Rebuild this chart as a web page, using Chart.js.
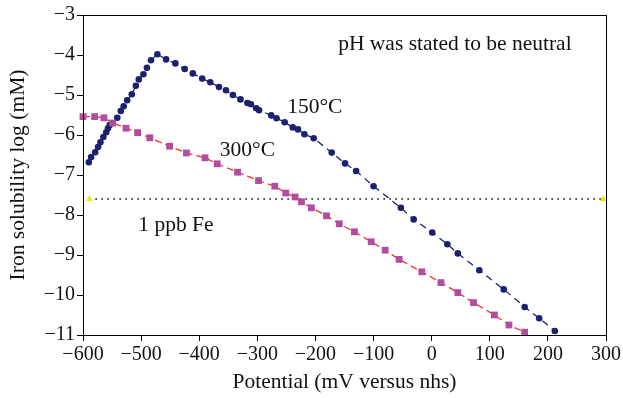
<!DOCTYPE html>
<html>
<head>
<meta charset="utf-8">
<script src="https://cdn.jsdelivr.net/npm/chart.js@4.4.1/dist/chart.umd.min.js"></script>
<style>
  html, body { margin: 0; padding: 0; background: #fff; }
  #wrap { width: 623px; height: 398px; }
</style>
</head>
<body>
<div id="wrap"><canvas id="ironChart" width="623" height="398"></canvas></div>
<script>
// --- Valori ---
const potential150 = [-590, -586, -579, -574, -570, -565, -560, -557, -554, -541, -535, -530, -524, -516, -509, -504, -496, -490, -483, -472, -457, -441, -425, -411, -395, -381, -366, -354, -342, -329, -317, -311, -302, -297, -276, -267, -253, -239, -230, -219, -203, -172, -149, -130, -100, -53, -31, 1, 27, 45, 82, 124, 160, 185, 212];
const logFe150 = [-6.68, -6.55, -6.43, -6.30, -6.18, -6.05, -5.93, -5.83, -5.75, -5.57, -5.40, -5.28, -5.13, -4.98, -4.77, -4.61, -4.48, -4.32, -4.13, -3.98, -4.11, -4.21, -4.35, -4.46, -4.59, -4.68, -4.80, -4.88, -5.00, -5.11, -5.20, -5.23, -5.33, -5.38, -5.51, -5.58, -5.68, -5.81, -5.86, -5.98, -6.08, -6.44, -6.71, -6.90, -7.28, -7.82, -8.11, -8.44, -8.73, -8.96, -9.38, -9.86, -10.30, -10.58, -10.90];

const potential300 = [-600, -580, -564, -549, -526, -506, -485, -451, -422, -390, -369, -334, -298, -270, -251, -235, -224, -207, -181, -159, -133, -104, -80, -56, -17, 16, 45, 72, 108, 133, 160];
const logFe300 = [-5.54, -5.54, -5.57, -5.70, -5.83, -5.94, -6.07, -6.28, -6.45, -6.57, -6.72, -6.93, -7.14, -7.28, -7.45, -7.55, -7.67, -7.82, -8.02, -8.22, -8.42, -8.67, -8.88, -9.11, -9.42, -9.69, -9.94, -10.19, -10.50, -10.75, -10.93];

const ppbPotential = [-589, 295];
const ppbLog = [-7.6, -7.6];

const xTicks = [-600, -500, -400, -300, -200, -100, 0, 100, 200, 300];
const yTicks = [-3, -4, -5, -6, -7, -8, -9, -10, -11];

// Etichetele din interiorul graficului (pozitii in unitati de date)
const notes = [
    { text: 'pH was stated to be neutral', x: 40, y: -3.73 },
    { text: '150\u00B0C', x: -201, y: -5.3 },
    { text: '300\u00B0C', x: -317, y: -6.38 },
    { text: '1 ppb Fe', x: -440, y: -8.25 }
];

const FONT = 'Liberation Serif, Times New Roman, serif';
const toPoints = (xs, ys) => xs.map((x, i) => ({ x: x, y: ys[i] }));
const minus = v => String(v).replace('-', '\u2212');

// Rama completa si textele de pe grafic
const framePlugin = {
    id: 'frame',
    afterDraw(chart) {
        const { ctx, chartArea: a, scales } = chart;
        ctx.save();
        ctx.strokeStyle = '#000';
        ctx.lineWidth = 1;
        ctx.strokeRect(a.left + 0.5, a.top + 0.5, a.right - a.left, a.bottom - a.top);
        ctx.fillStyle = '#111';
        ctx.font = '21.5px ' + FONT;
        ctx.textAlign = 'center';
        ctx.textBaseline = 'middle';
        notes.forEach(n => {
            ctx.fillText(n.text, scales.x.getPixelForValue(n.x), scales.y.getPixelForValue(n.y));
        });
        ctx.restore();
    }
};

const chart = new Chart(document.getElementById('ironChart'), {
    type: 'scatter',
    data: {
        datasets: [
            {
                label: '300 C',
                data: toPoints(potential300, logFe300),
                showLine: true,
                borderColor: '#ff2a2a',
                borderWidth: 1.3,
                borderDash: [7, 4],
                pointStyle: 'rect',
                pointRadius: 4.8,
                pointBackgroundColor: '#b24c9f',
                pointBorderColor: '#b24c9f',
                pointBorderWidth: 0,
                clip: false
            },
            {
                label: '150 C',
                data: toPoints(potential150, logFe150),
                showLine: true,
                borderColor: '#1c2070',
                borderWidth: 1.3,
                borderDash: [7, 5],
                pointRadius: 3.3,
                pointBackgroundColor: '#1c2070',
                pointBorderColor: '#1c2070',
                pointBorderWidth: 0,
                clip: false
            },
            {
                label: '1 ppb Fe',
                data: toPoints(ppbPotential, ppbLog),
                showLine: true,
                borderColor: '#000',
                borderWidth: 1.3,
                borderDash: [1.5, 4.5],
                pointStyle: 'triangle',
                pointRadius: 3.8,
                pointBackgroundColor: '#f2e600',
                pointBorderColor: '#f2e600',
                pointBorderWidth: 0,
                clip: false
            }
        ]
    },
    options: {
        responsive: false,
        animation: false,
        layout: { padding: { top: 15, right: 16, left: 0, bottom: 0 } },
        plugins: { legend: { display: false }, tooltip: { enabled: false } },
        scales: {
            x: {
                type: 'linear',
                min: -600,
                max: 300,
                afterBuildTicks: s => { s.ticks = xTicks.map(v => ({ value: v })); },
                afterFit: s => { s.height = 63; },
                grid: { drawOnChartArea: false, color: '#000', tickLength: 6 },
                border: { color: '#000', width: 1 },
                ticks: { color: '#111', font: { family: FONT, size: 20 }, padding: 2, maxRotation: 0, callback: v => minus(v) },
                title: { display: true, text: 'Potential (mV versus nhs)', color: '#111', font: { family: FONT, size: 21.5 }, padding: { top: 0, bottom: 3 } }
            },
            y: {
                type: 'linear',
                min: -11,
                max: -3,
                afterBuildTicks: s => { s.ticks = yTicks.map(v => ({ value: v })); },
                afterFit: s => { s.width = 83; },
                grid: { drawOnChartArea: false, color: '#000', tickLength: 6 },
                border: { color: '#000', width: 1 },
                ticks: { color: '#111', font: { family: FONT, size: 20 }, padding: 2, callback: v => minus(v) },
                title: { display: true, text: 'Iron solubility log (mM)', color: '#111', font: { family: FONT, size: 21.5 }, padding: { top: 5, bottom: 0 } }
            }
        }
    },
    plugins: [framePlugin]
});
</script>
</body>
</html>
